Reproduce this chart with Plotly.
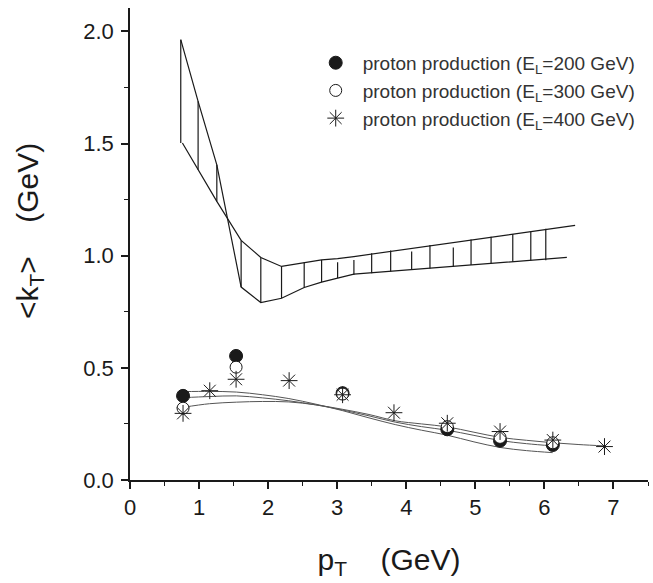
import plotly.graph_objects as go

# ---- data ----
# upper band: two boundary curves
bandA_x = [0.735, 0.986, 1.257, 1.609, 1.894, 2.194, 2.522, 2.774, 3.006, 3.242, 6.325]
bandA_y = [1.963, 1.688, 1.405, 0.860, 0.791, 0.810, 0.858, 0.882, 0.900, 0.918, 0.992]
bandB_x = [0.759, 0.986, 1.257, 1.609, 1.894, 2.194, 2.522, 2.774, 3.006, 3.242, 6.445]
bandB_y = [1.502, 1.383, 1.242, 1.068, 0.992, 0.952, 0.969, 0.981, 0.987, 0.996, 1.135]

# vertical hatch strokes inside the band
hatch_x  = [0.735, 0.986, 1.257, 1.609, 1.894, 2.194, 2.522, 2.774, 3.006, 3.242,
            3.499, 3.774, 4.078, 4.343, 4.681, 4.938, 5.228, 5.542, 5.803, 6.020]
hatch_lo = [1.502, 1.383, 1.242, 0.860, 0.791, 0.810, 0.858, 0.882, 0.900, 0.915,
            0.922, 0.929, 0.936, 0.943, 0.951, 0.958, 0.965, 0.973, 0.979, 0.980]
hatch_hi = [1.963, 1.688, 1.405, 1.068, 0.992, 0.952, 0.969, 0.981, 0.971, 0.981,
            1.011, 1.023, 1.019, 1.047, 1.036, 1.072, 1.084, 1.097, 1.108, 1.120]

# data points
p200_x = [0.768, 1.536, 3.078, 4.594, 5.358, 6.122]
p200_y = [0.375, 0.553, 0.387, 0.226, 0.175, 0.156]
p300_x = [0.768, 1.536, 3.078, 4.594, 5.358, 6.122]
p300_y = [0.320, 0.503, 0.383, 0.238, 0.190, 0.166]
p400_x = [0.768, 1.155, 1.536, 2.304, 3.078, 3.822, 4.594, 5.358, 6.122, 6.870]
p400_y = [0.297, 0.398, 0.449, 0.443, 0.380, 0.300, 0.253, 0.216, 0.178, 0.149]

# fitted curves
fit_x = [0.77, 1.15, 1.54, 1.92, 2.30, 2.69, 3.08, 3.46, 3.84, 4.22, 4.59, 4.98, 5.36, 5.74, 6.12]
fit200_y = [0.394, 0.395, 0.392, 0.380, 0.363, 0.338, 0.309, 0.277, 0.247, 0.222, 0.200, 0.170, 0.145, 0.131, 0.122]
fit300_y = [0.367, 0.372, 0.375, 0.366, 0.353, 0.335, 0.312, 0.286, 0.258, 0.238, 0.222, 0.199, 0.176, 0.162, 0.152]
fit400_x = fit_x + [6.50, 6.87]
fit400_y = [0.324, 0.340, 0.347, 0.350, 0.348, 0.335, 0.315, 0.292, 0.264, 0.250, 0.237, 0.213, 0.190, 0.177, 0.166, 0.158, 0.152]

legend_labels = ["proton production (E<sub>L</sub>=200 GeV)",
                 "proton production (E<sub>L</sub>=300 GeV)",
                 "proton production (E<sub>L</sub>=400 GeV)"]

x_ticks = [0, 1, 2, 3, 4, 5, 6, 7]
y_ticks = [0.0, 0.5, 1.0, 1.5, 2.0]

FONT = "Liberation Sans, Arial, Helvetica, sans-serif"
INK = "#1a1a1a"
NB = "\u00a0"

fig = go.Figure()

# hatch segments
hx, hy = [], []
for xv, lo, hi in zip(hatch_x, hatch_lo, hatch_hi):
    hx += [xv, xv, None]
    hy += [lo, hi, None]
fig.add_trace(go.Scatter(x=hx, y=hy, mode="lines", line=dict(color=INK, width=1.2),
                         showlegend=False, hoverinfo="skip"))
fig.add_trace(go.Scatter(x=bandA_x, y=bandA_y, mode="lines", line=dict(color=INK, width=1.2),
                         showlegend=False))
fig.add_trace(go.Scatter(x=bandB_x, y=bandB_y, mode="lines", line=dict(color=INK, width=1.2),
                         showlegend=False))

# fitted curves
for fx, fy in [(fit_x, fit200_y), (fit_x, fit300_y), (fit400_x, fit400_y)]:
    fig.add_trace(go.Scatter(x=fx, y=fy, mode="lines", line=dict(color="#555555", width=1, shape="spline"),
                             showlegend=False))

# points
fig.add_trace(go.Scatter(x=p200_x, y=p200_y, mode="markers", name=legend_labels[0],
                         marker=dict(symbol="circle", size=13, color=INK, line=dict(color=INK, width=1))))
fig.add_trace(go.Scatter(x=p300_x, y=p300_y, mode="markers", name=legend_labels[1],
                         marker=dict(symbol="circle", size=12, color="white", line=dict(color=INK, width=1))))
fig.add_trace(go.Scatter(x=p400_x, y=p400_y, mode="markers", name=legend_labels[2],
                         marker=dict(symbol="asterisk-open", size=14, color=INK, line=dict(color=INK, width=1))))

axis_common = dict(showline=True, linecolor=INK, linewidth=1.5, ticks="outside", ticklen=7,
                   tickwidth=1.5, tickcolor=INK, showgrid=False, zeroline=False,
                   tickfont=dict(family=FONT, size=22, color=INK))

fig.update_xaxes(range=[0, 7.5], tickvals=x_ticks, ticktext=[str(v) for v in x_ticks],
                 minor=dict(ticks="outside", dtick=0.5, ticklen=4, tickwidth=1.2, tickcolor=INK),
                 title=dict(text="p<sub>T</sub>" + NB * 4 + "(GeV)", standoff=30,
                            font=dict(family=FONT, size=30, color=INK)),
                 **axis_common)
fig.update_yaxes(range=[0, 2.104], tickvals=y_ticks, ticktext=[f"{v:.1f}" for v in y_ticks],
                 minor=dict(ticks="outside", dtick=0.25, ticklen=4, tickwidth=1.2, tickcolor=INK),
                 ticklabelstandoff=3,
                 **axis_common)

# y-axis title placed as a rotated annotation left of the tick labels
fig.add_annotation(text="&lt;k<sub>T</sub>&gt;" + NB * 4 + "(GeV)", textangle=-90,
                   xref="paper", yref="paper", x=0, y=0.5275, xanchor="center", yanchor="middle",
                   xshift=-101, showarrow=False,
                   font=dict(family=FONT, size=30, color=INK))

fig.update_layout(
    width=653, height=583,
    margin=dict(l=130, r=5, t=8, b=103, autoexpand=False),
    paper_bgcolor="white", plot_bgcolor="white",
    font=dict(family=FONT, color=INK),
    legend=dict(x=0.345, y=0.924, xanchor="left", yanchor="top", bgcolor="rgba(0,0,0,0)",
                itemwidth=44, font=dict(family=FONT, size=19, color="#333333")),
    showlegend=True,
)

fig.write_html("out.html", config={"displayModeBar": False},
               post_script="document.body.style.margin='0px';document.body.style.overflow='hidden';")
